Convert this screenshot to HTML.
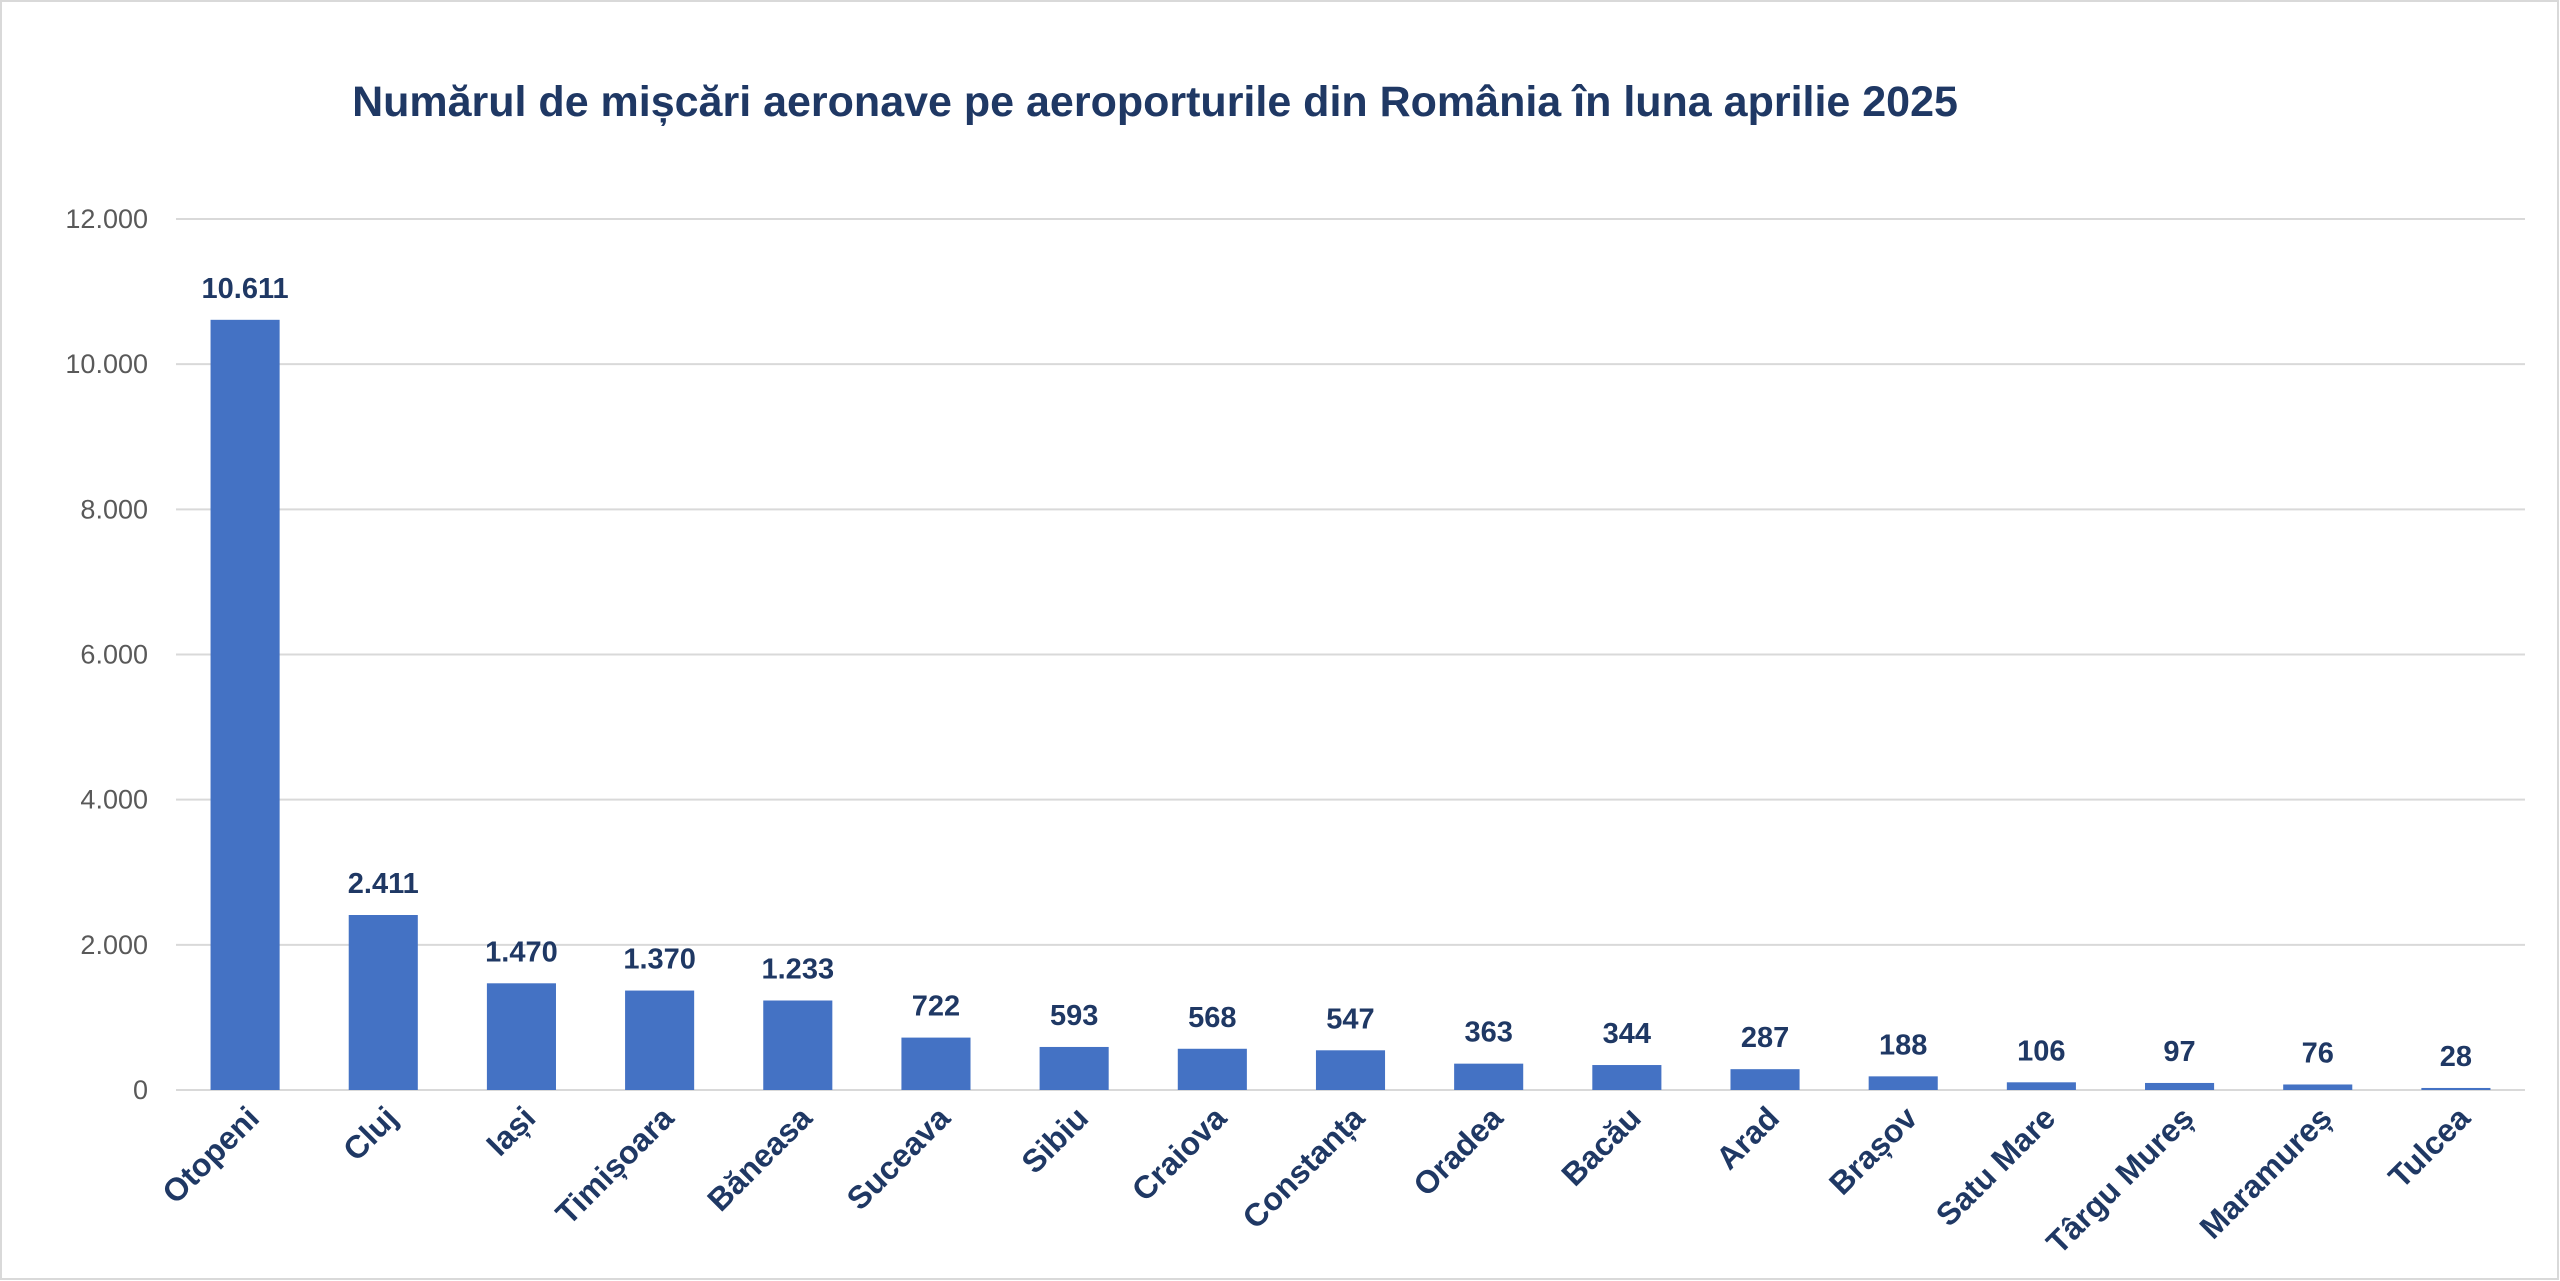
<!DOCTYPE html>
<html><head><meta charset="utf-8"><style>
html,body{margin:0;padding:0;background:#fff}
svg{display:block;font-family:"Liberation Sans","DejaVu Sans",sans-serif}
</style></head><body>
<svg id="chart" width="2560" height="1281" viewBox="0 0 2560 1281" xmlns="http://www.w3.org/2000/svg">
<rect x="1" y="1" width="2557" height="1278" fill="#fff" stroke="#d9d9d9" stroke-width="2"/>
<text x="1155" y="116" text-anchor="middle" font-size="43" font-weight="bold" fill="#1f3864">Numărul de mișcări aeronave pe aeroporturile din România în luna aprilie 2025</text>
<g id="grid"></g><g id="bars"></g><g id="labels"></g>
</svg>
<script>
const categories = ["Otopeni","Cluj","Iași","Timișoara","Băneasa","Suceava","Sibiu","Craiova","Constanța","Oradea","Bacău","Arad","Brașov","Satu Mare","Târgu Mureș","Maramureș","Tulcea"];
const values = [10611,2411,1470,1370,1233,722,593,568,547,363,344,287,188,106,97,76,28];
const valueLabels = ["10.611","2.411","1.470","1.370","1.233","722","593","568","547","363","344","287","188","106","97","76","28"];
const yTicks = [0,2000,4000,6000,8000,10000,12000];
const yTickLabels = ["0","2.000","4.000","6.000","8.000","10.000","12.000"];

const NS="http://www.w3.org/2000/svg";
const x0=176,x1=2525,yBase=1090,yTop=219,yMax=12000;
const step=(x1-x0)/categories.length, bw=step*0.5;
const y=v=>yBase-(v/yMax)*(yBase-yTop);
const cx=i=>x0+step*(i+0.5);
function mk(t,a,p){const e=document.createElementNS(NS,t);for(const k in a)e.setAttribute(k,a[k]);p.appendChild(e);return e;}
const grid=document.getElementById('grid'),bars=document.getElementById('bars'),labels=document.getElementById('labels');
yTicks.forEach((t,i)=>{
  const l=mk('line',{x1:x0,x2:x1,y1:y(t),y2:y(t),stroke:'#d9d9d9','stroke-width':2},grid);
  
  
  const tx=mk('text',{x:148,y:y(t)+9,'text-anchor':'end','font-size':27,fill:'#595959'},grid);
  tx.textContent=yTickLabels[i];
  
  
});
categories.forEach((c,i)=>{
  const r=mk('rect',{x:cx(i)-bw/2,y:y(values[i]),width:bw,height:yBase-y(values[i]),fill:'#4472c4'},bars);
  
  
  const v=mk('text',{x:cx(i),y:y(values[i])-22,'text-anchor':'middle','font-size':29,'font-weight':'bold',fill:'#1f3864'},labels);
  v.textContent=valueLabels[i];
  
  
  const lx=cx(i)+16,ly=1120;
  const t=mk('text',{x:lx,y:ly,'text-anchor':'end','font-size':32,'font-weight':'bold',fill:'#1f3864',transform:`rotate(-45 ${lx} ${ly})`},labels);
  t.textContent=c;
  
  
});
</script>
</body></html>
